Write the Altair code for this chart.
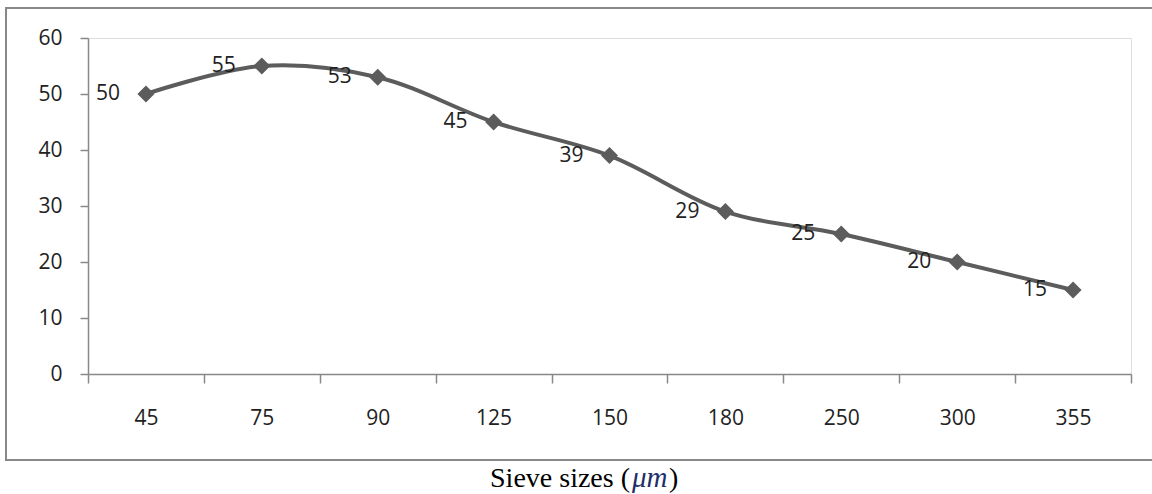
import altair as alt
import pandas as pd

sizes = ["45", "75", "90", "125", "150", "180", "250", "300", "355"]
values = [50, 55, 53, 45, 39, 29, 25, 20, 15]
y_ticks = [0, 10, 20, 30, 40, 50, 60]

df = pd.DataFrame({"size": sizes, "value": values})
one = pd.DataFrame({"a": [0]})

W, H = 1043, 336
FONT = "Open Sans"
GRAY = "#888888"
LINE = "#5c5c5c"

x_enc = alt.X(
    "size:N", sort=sizes,
    scale=alt.Scale(type="band", paddingInner=0, paddingOuter=0),
    axis=alt.Axis(title=None, labelAngle=0, tickBand="extent", tickSize=9,
                  labelPadding=35, labelBaseline="middle", labelFont=FONT,
                  labelFontSize=21, labelColor="#222222", domainColor=GRAY,
                  tickColor=GRAY, domainWidth=1.5, tickWidth=1.5, grid=False),
)
y_enc = alt.Y(
    "value:Q", scale=alt.Scale(domain=[0, 60], nice=False),
    axis=alt.Axis(title=None, values=y_ticks, tickSize=8, labelPadding=18,
                  labelFont=FONT, labelFontSize=21, labelColor="#222222",
                  domainColor=GRAY, tickColor=GRAY, domainWidth=1.5,
                  tickWidth=1.5, grid=False),
)

base = alt.Chart(df).encode(x=x_enc, y=y_enc)

line = base.mark_line(interpolate="catmull-rom", color=LINE, strokeWidth=4)
pts = base.mark_point(shape="diamond", filled=True, size=290, color=LINE, opacity=1)
labels = base.mark_text(align="right", baseline="middle", dx=-26, font=FONT,
                        fontSize=21, color="#222222").encode(text="value:Q")

border = alt.Chart(one).mark_rect(fill=None, stroke=GRAY, strokeWidth=2).encode(
    x=alt.value(-82), x2=alt.value(W + 40), y=alt.value(-30), y2=alt.value(422)
)

t1 = alt.Chart(one).mark_text(align="right", baseline="alphabetic",
                              font="Liberation Serif", fontSize=28,
                              color="#000000").encode(
    x=alt.value(542), y=alt.value(449), text=alt.value("Sieve sizes (")
)
t2 = alt.Chart(one).mark_text(align="left", baseline="alphabetic",
                              font="Liberation Serif", fontSize=29,
                              fontStyle="italic", color="#1f2f6a").encode(
    x=alt.value(544), y=alt.value(449), text=alt.value("\u03bcm")
)
t3 = alt.Chart(one).mark_text(align="left", baseline="alphabetic",
                              font="Liberation Serif", fontSize=28,
                              color="#000000").encode(
    x=alt.value(581), y=alt.value(449), text=alt.value(")")
)

chart = alt.layer(border, line, pts, labels, t1, t2, t3).properties(
    width=W, height=H,
    autosize=alt.AutoSizeParams(type="none"),
    padding={"left": 88, "top": 38, "right": 21, "bottom": 120},
).configure_view(stroke=None).configure(background="white")

chart.save("out.html", embed_options={"renderer": "svg", "actions": False})
